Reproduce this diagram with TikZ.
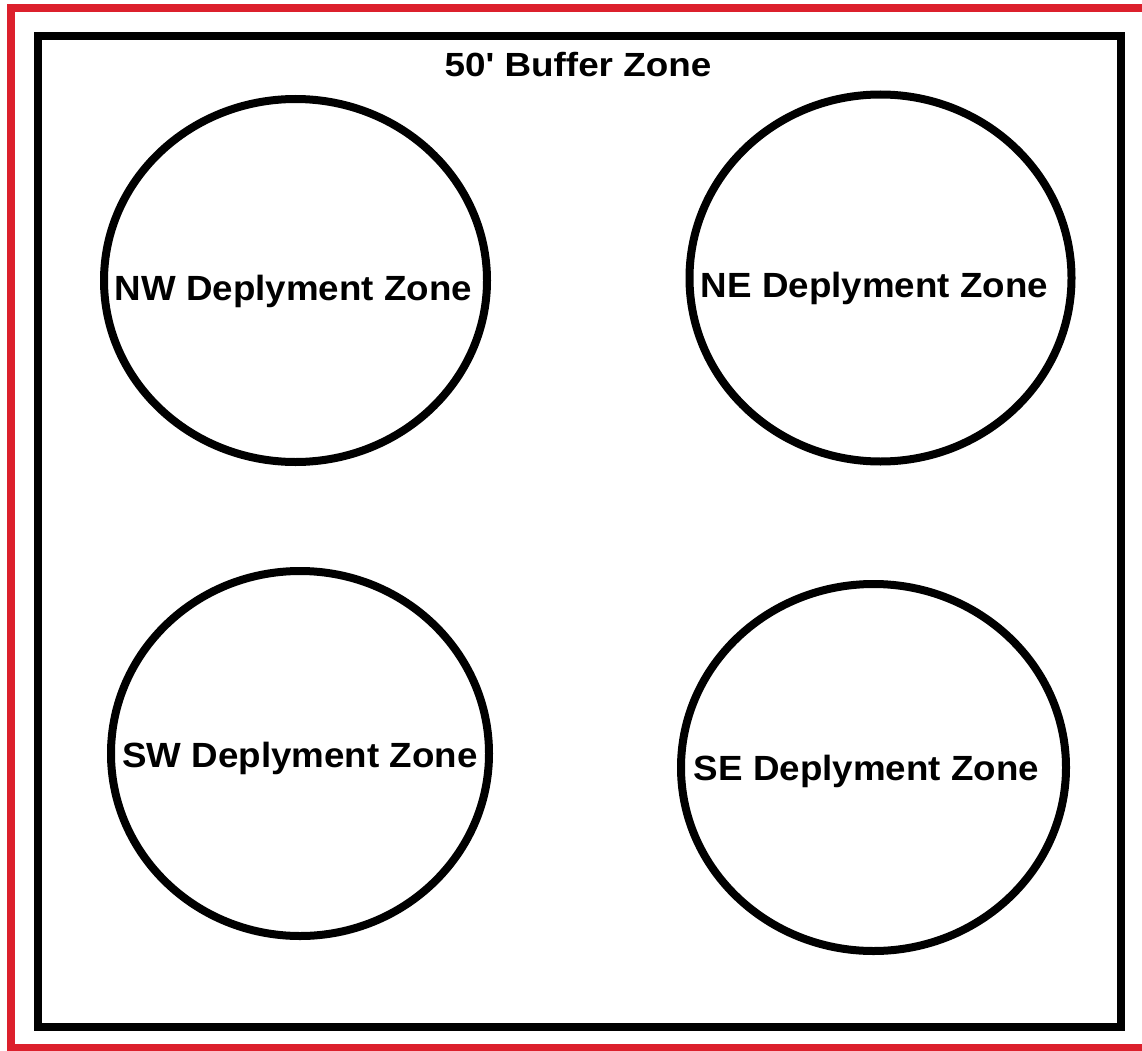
\documentclass[tikz,border=0pt]{standalone}
\usepackage{fontspec}
\setmainfont{Liberation Sans}
\usetikzlibrary{shapes.geometric}
\definecolor{frame}{RGB}{220,32,44}
\tikzset{
  zone/.style={draw=black, line width=8pt, ellipse, inner sep=0pt},
  zonelabel/.style={anchor=base, inner sep=0pt, font=\bfseries\fontsize{35}{40}\selectfont, xscale=1.05, transform shape},
  titlelabel/.style={anchor=base, inner sep=0pt, font=\bfseries\fontsize{33.5}{38}\selectfont, xscale=1.1, transform shape}
}
\begin{document}
\begin{tikzpicture}[x=1pt,y=-1pt]
\useasboundingbox (0,0) rectangle (1142,1051);
\clip (0,0) rectangle (1142,1051);
\fill[white] (0,0) rectangle (1142,1051);
\draw[frame, line width=8pt] (11,8.5) rectangle (1160,1048);
\draw[black, line width=8pt] (37.5,36.5) rectangle (1121,1026.5);
\node[titlelabel] (title) at (578,77) {50\textquotesingle{} Buffer Zone};
\node[zone, minimum width=383pt, minimum height=363pt] (nw) at (295.5,280.5) {};
\node[zone, minimum width=382pt, minimum height=367pt] (ne) at (880.5,278) {};
\node[zone, minimum width=378pt, minimum height=365pt] (sw) at (300,753.5) {};
\node[zone, minimum width=385pt, minimum height=367pt] (se) at (873.5,767.5) {};
\node[zonelabel] (nwl) at (293.5,300) {NW Deplyment Zone};
\node[zonelabel] (nel) at (874.5,297) {NE Deplyment Zone};
\node[zonelabel] (swl) at (300,767) {SW Deplyment Zone};
\node[zonelabel] (sel) at (866.5,780) {SE Deplyment Zone};
\end{tikzpicture}
\end{document}
